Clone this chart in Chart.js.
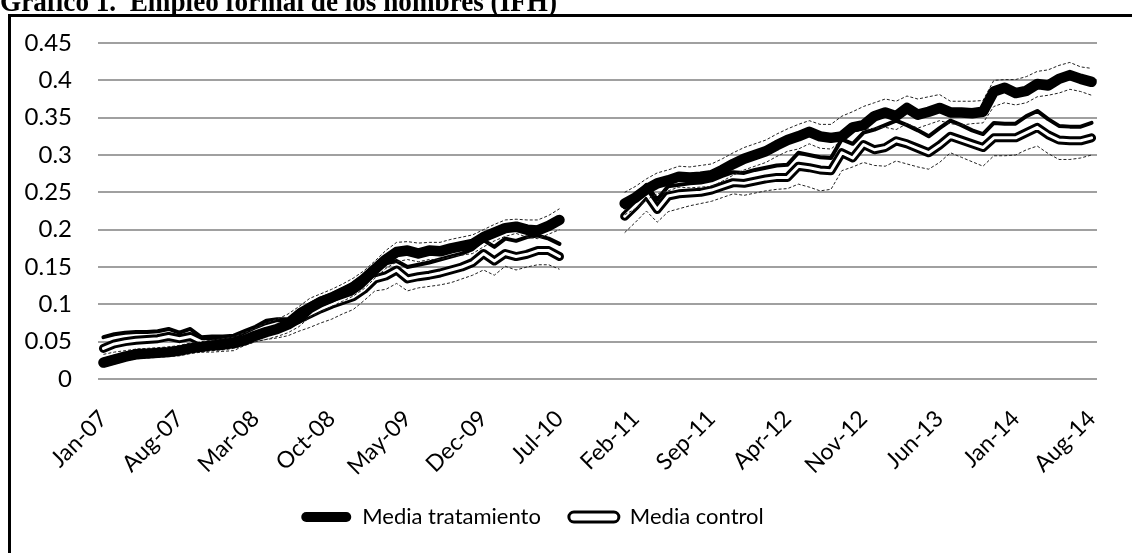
<!DOCTYPE html>
<html>
<head>
<meta charset="utf-8">
<script src="https://cdn.jsdelivr.net/npm/chart.js@4.4.1/dist/chart.umd.min.js"></script>
<style>
html,body{margin:0;padding:0;background:#fff;}
#wrap{width:1132px;height:553px;position:relative;}
</style>
</head>
<body>
<div id="wrap"><canvas id="c" width="1132" height="553"></canvas></div>
<script>
const titleText = 'Gráfico 1.  Empleo formal de los hombres (IFH)';
const months = [
 'Jan-07','Feb-07','Mar-07','Apr-07','May-07','Jun-07','Jul-07','Aug-07','Sep-07','Oct-07','Nov-07','Dec-07',
 'Jan-08','Feb-08','Mar-08','Apr-08','May-08','Jun-08','Jul-08','Aug-08','Sep-08','Oct-08','Nov-08','Dec-08',
 'Jan-09','Feb-09','Mar-09','Apr-09','May-09','Jun-09','Jul-09','Aug-09','Sep-09','Oct-09','Nov-09','Dec-09',
 'Jan-10','Feb-10','Mar-10','Apr-10','May-10','Jun-10','Jul-10','Aug-10','Sep-10','Oct-10','Nov-10','Dec-10',
 'Jan-11','Feb-11','Mar-11','Apr-11','May-11','Jun-11','Jul-11','Aug-11','Sep-11','Oct-11','Nov-11','Dec-11',
 'Jan-12','Feb-12','Mar-12','Apr-12','May-12','Jun-12','Jul-12','Aug-12','Sep-12','Oct-12','Nov-12','Dec-12',
 'Jan-13','Feb-13','Mar-13','Apr-13','May-13','Jun-13','Jul-13','Aug-13','Sep-13','Oct-13','Nov-13','Dec-13',
 'Jan-14','Feb-14','Mar-14','Apr-14','May-14','Jun-14','Jul-14','Aug-14'
];
const shownLabels = ['Jan-07','Aug-07','Mar-08','Oct-08','May-09','Dec-09','Jul-10','Feb-11','Sep-11','Apr-12','Nov-12','Jun-13','Jan-14','Aug-14'];

const mediaTratamiento = [
 0.022,0.026,0.030,0.033,0.034,0.035,0.036,0.038,0.041,0.043,0.045,0.046,
 0.048,0.052,0.058,0.063,0.067,0.073,0.082,0.095,0.103,0.109,0.116,0.123,
 0.134,0.147,0.160,0.170,0.172,0.168,0.172,0.171,0.175,0.178,0.181,0.190,
 0.196,0.202,0.204,0.200,0.199,0.205,0.213,null,null,null,null,null,
 0.235,0.243,0.254,0.262,0.266,0.271,0.270,0.271,0.273,0.280,0.288,0.295,
 0.300,0.305,0.313,0.320,0.325,0.331,0.325,0.323,0.325,0.337,0.340,0.352,
 0.357,0.352,0.363,0.354,0.358,0.363,0.357,0.357,0.356,0.358,0.385,0.390,
 0.383,0.386,0.395,0.393,0.402,0.407,0.402,0.398
];
const tratamientoSup = [
 0.028,0.032,0.036,0.040,0.041,0.042,0.043,0.045,0.048,0.050,0.052,0.054,
 0.056,0.062,0.068,0.075,0.080,0.087,0.097,0.108,0.114,0.120,0.127,0.135,
 0.145,0.158,0.172,0.183,0.184,0.182,0.183,0.183,0.187,0.190,0.193,0.200,
 0.207,0.213,0.214,0.213,0.213,0.219,0.228,null,null,null,null,null,
 0.250,0.258,0.268,0.276,0.280,0.285,0.284,0.286,0.288,0.295,0.303,0.310,
 0.315,0.320,0.328,0.335,0.341,0.346,0.341,0.341,0.352,0.358,0.365,0.370,
 0.375,0.372,0.379,0.375,0.378,0.381,0.372,0.372,0.372,0.373,0.400,0.401,
 0.401,0.405,0.412,0.414,0.420,0.424,0.418,0.416
];
const tratamientoInf = [
 0.016,0.020,0.024,0.027,0.028,0.029,0.030,0.031,0.034,0.036,0.038,0.039,
 0.041,0.045,0.050,0.053,0.057,0.062,0.070,0.083,0.090,0.097,0.104,0.111,
 0.121,0.135,0.148,0.157,0.160,0.157,0.160,0.160,0.164,0.166,0.168,0.177,
 0.185,0.191,0.195,0.190,0.188,0.194,0.200,null,null,null,null,null,
 0.220,0.228,0.240,0.248,0.252,0.257,0.256,0.257,0.258,0.265,0.273,0.280,
 0.285,0.290,0.298,0.305,0.308,0.315,0.309,0.308,0.320,0.330,0.334,0.336,
 0.337,0.334,0.342,0.336,0.341,0.346,0.342,0.340,0.342,0.343,0.365,0.370,
 0.367,0.370,0.378,0.380,0.383,0.388,0.385,0.380
];
const mediaControl = [
 0.041,0.047,0.050,0.052,0.053,0.054,0.057,0.054,0.057,0.050,0.050,0.050,
 0.050,0.057,0.064,0.070,0.074,0.074,0.080,0.087,0.094,0.100,0.105,0.110,
 0.120,0.134,0.138,0.146,0.134,0.137,0.139,0.142,0.146,0.150,0.156,0.168,
 0.158,0.168,0.164,0.167,0.172,0.172,0.164,null,null,null,null,null,
 0.218,0.232,0.248,0.227,0.245,0.248,0.249,0.250,0.253,0.258,0.263,0.262,
 0.265,0.268,0.270,0.270,0.285,0.283,0.280,0.279,0.303,0.296,0.314,0.307,
 0.310,0.319,0.315,0.309,0.303,0.313,0.325,0.320,0.315,0.310,0.323,0.323,
 0.323,0.330,0.337,0.327,0.320,0.319,0.319,0.323
];
const controlSup = [
 0.056,0.060,0.062,0.063,0.063,0.064,0.067,0.062,0.067,0.056,0.057,0.057,
 0.058,0.064,0.070,0.078,0.080,0.080,0.092,0.100,0.108,0.113,0.120,0.128,
 0.138,0.148,0.155,0.158,0.150,0.153,0.156,0.160,0.164,0.168,0.174,0.186,
 0.177,0.188,0.185,0.190,0.192,0.188,0.181,null,null,null,null,null,
 0.230,0.245,0.260,0.240,0.258,0.260,0.262,0.263,0.266,0.272,0.277,0.276,
 0.280,0.283,0.286,0.287,0.303,0.300,0.297,0.296,0.321,0.315,0.330,0.334,
 0.340,0.346,0.340,0.333,0.325,0.336,0.346,0.340,0.333,0.328,0.343,0.342,
 0.342,0.352,0.359,0.348,0.339,0.338,0.338,0.343
];
const controlInf = [
 0.033,0.036,0.038,0.040,0.040,0.040,0.043,0.040,0.043,0.036,0.036,0.037,
 0.038,0.045,0.050,0.053,0.055,0.058,0.064,0.069,0.075,0.080,0.087,0.093,
 0.105,0.118,0.120,0.128,0.118,0.122,0.124,0.126,0.129,0.134,0.139,0.146,
 0.139,0.151,0.146,0.150,0.153,0.153,0.147,null,null,null,null,null,
 0.196,0.210,0.225,0.210,0.224,0.228,0.232,0.235,0.238,0.243,0.248,0.246,
 0.249,0.252,0.254,0.255,0.261,0.257,0.252,0.254,0.279,0.284,0.290,0.286,
 0.285,0.292,0.288,0.284,0.281,0.290,0.303,0.297,0.291,0.285,0.299,0.299,
 0.300,0.307,0.312,0.302,0.294,0.294,0.296,0.300
];
const yTicks = [0,0.05,0.1,0.15,0.2,0.25,0.3,0.35,0.4,0.45];

const TXT = "Lato, sans-serif";

const framePlugin = {
  id: 'frame',
  beforeDraw(chart) {
    const ctx = chart.ctx;
    // shift the legend slightly left, as in the source
    if (chart.legend) { chart.legend.left -= 16; chart.legend.right -= 16; }
    ctx.save();
    ctx.fillStyle = '#fff';
    ctx.fillRect(0, 0, chart.width, chart.height);
    ctx.strokeStyle = '#000';
    ctx.lineWidth = 3;
    ctx.strokeRect(9.5, 15.5, chart.width + 20, chart.height + 20);
    // title (cut at the top, as in the source image)
    const size = 30;
    ctx.font = 'bold ' + size + 'px "Liberation Serif"';
    const w = ctx.measureText(titleText).width;
    ctx.fillStyle = '#000';
    ctx.textBaseline = 'alphabetic';
    ctx.textAlign = 'left';
    ctx.translate(0, 11);
    ctx.scale(557 / w, 1);
    ctx.fillText(titleText, 0, 0);
    ctx.restore();
  }
};

const ctx = document.getElementById('c').getContext('2d');
new Chart(ctx, {
  type: 'line',
  data: {
    labels: months,
    datasets: [
      { label: 'Media tratamiento', data: mediaTratamiento, borderColor: '#000', borderWidth: 10.5,
        borderCapStyle: 'round', borderJoinStyle: 'round', pointRadius: 0, order: 0, spanGaps: false },
      { label: 'Media control', data: mediaControl, borderColor: '#fff', borderWidth: 3,
        borderCapStyle: 'round', borderJoinStyle: 'round', pointRadius: 0, order: 2, spanGaps: false },
      { label: 'control_borde', data: mediaControl, borderColor: '#000', borderWidth: 9,
        borderCapStyle: 'round', borderJoinStyle: 'round', pointRadius: 0, order: 3, spanGaps: false },
      { label: 'tratamiento_sup', data: tratamientoSup, borderColor: '#222', borderWidth: 1, borderDash: [3, 2],
        pointRadius: 0, order: 1, spanGaps: false },
      { label: 'tratamiento_inf', data: tratamientoInf, borderColor: '#222', borderWidth: 1, borderDash: [3, 2],
        pointRadius: 0, order: 1, spanGaps: false },
      { label: 'control_sup', data: controlSup, borderColor: '#000', borderWidth: 4,
        borderJoinStyle: 'round', borderCapStyle: 'round', pointRadius: 0, order: 4, spanGaps: false },
      { label: 'control_inf', data: controlInf, borderColor: '#222', borderWidth: 1, borderDash: [3, 2],
        pointRadius: 0, order: 1, spanGaps: false }
    ]
  },
  options: {
    responsive: false,
    animation: false,
    devicePixelRatio: 1,
    layout: { padding: { left: 0, right: 35, top: 43, bottom: 15 } },
    elements: { line: { tension: 0 } },
    plugins: {
      tooltip: { enabled: false },
      legend: {
        position: 'bottom',
        labels: {
          color: '#000',
          font: { family: TXT, size: 22 },
          boxWidth: 50,
          boxHeight: 10,
          padding: 28,
          useBorderRadius: true,
          borderRadius: 5,
          generateLabels(chart) {
            return [
              { text: 'Media tratamiento', fillStyle: '#000', strokeStyle: '#000', lineWidth: 0,
                datasetIndex: 0, borderRadius: 5, fontColor: '#000' },
              { text: 'Media control', fillStyle: '#fff', strokeStyle: '#000', lineWidth: 3,
                datasetIndex: 1, borderRadius: 5, fontColor: '#000' }
            ];
          }
        }
      }
    },
    scales: {
      x: {
        offset: true,
        grid: { display: false },
        border: { display: false },
        afterFit(s) { s.height = 99; },
        ticks: {
          autoSkip: false,
          minRotation: 45,
          maxRotation: 45,
          padding: 18,
          color: '#000',
          font: { family: TXT, size: 23 },
          callback(v, i) { return shownLabels.includes(months[i]) ? months[i] : ''; }
        }
      },
      y: {
        min: 0,
        max: 0.45,
        afterFit(s) { s.width = 98; },
        afterBuildTicks(s) { s.ticks = yTicks.map(v => ({ value: v })); },
        border: { display: false },
        grid: { color: '#a0a0a0', lineWidth: 2, drawTicks: false },
        ticks: {
          padding: 26,
          color: '#000',
          font: { family: TXT, size: 24 },
          callback(v) { return String(Number(v.toFixed(2))); }
        }
      }
    }
  },
  plugins: [framePlugin]
});
</script>
</body>
</html>
